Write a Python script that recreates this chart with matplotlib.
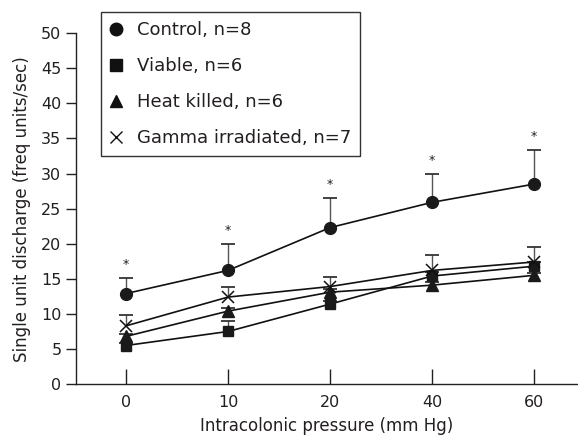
import numpy as np
import matplotlib
matplotlib.use('Agg')
import matplotlib.pyplot as plt

# Data
pressure_labels = ['0', '10', '20', '40', '60']

control = [12.9, 16.2, 22.3, 25.9, 28.5]
control_err = [2.2, 3.8, 4.2, 4.1, 4.9]

viable = [5.5, 7.5, 11.4, 15.4, 16.8]
viable_err = [0.3, 1.5, 0.4, 0.6, 0.6]

heat_killed = [6.8, 10.4, 13.1, 14.1, 15.5]
heat_killed_err = [0.4, 0.5, 0.4, 0.4, 0.4]

gamma = [8.3, 12.4, 13.9, 16.2, 17.4]
gamma_err = [1.5, 1.5, 1.4, 2.2, 2.1]

# significance marks sit above the control bars
signif = [True, True, True, True, True]

txt = '#231f20'
plt.rcParams['font.family'] = ['DejaVu Sans']
plt.rcParams['font.size'] = 11.5
plt.rcParams['text.color'] = txt
plt.rcParams['axes.labelcolor'] = txt
plt.rcParams['xtick.color'] = txt
plt.rcParams['ytick.color'] = txt

fig = plt.figure(figsize=(5.78, 4.36), dpi=100)
ax = fig.add_axes([0.1315, 0.119, 0.867, 0.805])

x = np.arange(len(pressure_labels))

series = [
    ('Viable, n=6', viable, viable_err, 's', 7.5, 2),
    ('Heat killed, n=6', heat_killed, heat_killed_err, '^', 8.5, 3),
    ('Gamma irradiated, n=7', gamma, gamma_err, 'x', 8, 4),
    ('Control, n=8', control, control_err, 'o', 8.5, 5),
]

handles = {}
for label, vals, err, mk, ms, z in series:
    vals = np.array(vals)
    err = np.array(err)
    # one-sided (upper) error bars
    ax.vlines(x, vals, vals + err, color='#555555', lw=1.0, zorder=z - 0.5)
    ax.plot(x, vals + err, ls='none', marker='_', ms=10, mew=1.2,
            color='#222222', zorder=z - 0.5)
    if mk == 'x':
        h, = ax.plot(x, vals, color='#111111', lw=1.2, marker=mk, ms=ms,
                     mew=1.1, zorder=z, label=label)
    else:
        h, = ax.plot(x, vals, color='#111111', lw=1.2, marker=mk, ms=ms,
                     mfc='#1a1a1a', mec='#1a1a1a', zorder=z, label=label)
    handles[label] = h

c = np.array(control) + np.array(control_err)
for i in range(len(x)):
    if signif[i]:
        ax.text(x[i], c[i] + 1.0, '*', ha='center', va='bottom', fontsize=9)

ax.set_xlim(-0.49, 4.42)
ax.set_ylim(0, 50)
ax.set_yticks(np.arange(0, 51, 5))
ax.set_xticks(x)
ax.set_xticklabels(pressure_labels)
ax.tick_params(axis='y', direction='out', length=7, width=1)
ax.tick_params(axis='x', direction='in', length=11, width=1, pad=8)
ax.spines['top'].set_visible(False)
ax.spines['right'].set_visible(False)
for s in ['left', 'bottom']:
    ax.spines[s].set_linewidth(1.0)
    ax.spines[s].set_color('#222222')

ax.set_xlabel('Intracolonic pressure (mm Hg)', labelpad=5, fontsize=12)
ax.set_ylabel('Single unit discharge (freq units/sec)', labelpad=7, fontsize=12)

order = ['Control, n=8', 'Viable, n=6', 'Heat killed, n=6', 'Gamma irradiated, n=7']
leg_handles = []
for lab in order:
    h = handles[lab]
    lh, = ax.plot([], [], ls='none', marker=h.get_marker(), ms=9,
                  color='#111111', mew=1.0)
    leg_handles.append(lh)
leg = fig.legend(leg_handles, order, loc='upper left',
                 bbox_to_anchor=(101 / 578, 1 - 12 / 436), borderaxespad=0,
                 fancybox=False, framealpha=1, edgecolor='#333333',
                 handlelength=0.7, handletextpad=0.8, labelspacing=1.0,
                 borderpad=0.5, fontsize=13)
leg.get_frame().set_linewidth(1.0)

fig.savefig('out.png', dpi=100)
